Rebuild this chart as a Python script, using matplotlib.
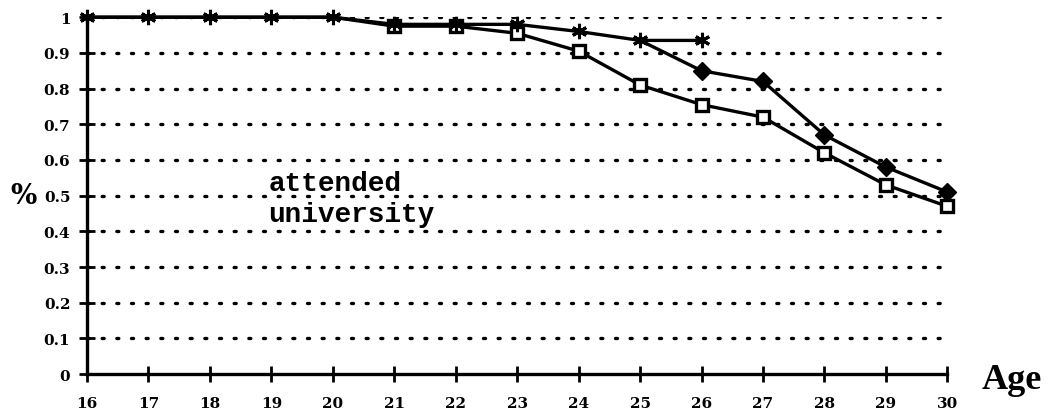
import numpy as np
import matplotlib.pyplot as plt

ages = [16, 17, 18, 19, 20, 21, 22, 23, 24, 25, 26, 27, 28, 29, 30]
star_ages = [16, 17, 18, 19, 20, 21, 22, 23, 24, 25, 26]
star_vals = [1, 1, 1, 1, 1, 0.98, 0.98, 0.98, 0.96, 0.935, 0.935]
diam_ages = [25, 26, 27, 28, 29, 30]
diam_vals = [0.935, 0.85, 0.82, 0.67, 0.58, 0.51]
square_vals = [1, 1, 1, 1, 1, 0.975, 0.975, 0.955, 0.905, 0.81, 0.755, 0.72, 0.62, 0.53, 0.47]
yticks = [0, 0.1, 0.2, 0.3, 0.4, 0.5, 0.6, 0.7, 0.8, 0.9, 1]
ylabels = ['0', '0.1', '0.2', '0.3', '0.4', '0.5', '0.6', '0.7', '0.8', '0.9', '1']

fig = plt.figure(figsize=(10.48, 4.14), dpi=100)
ax = fig.add_axes([0.083, 0.094, 0.821, 0.862])

# dotted grid lines
for y in yticks[1:]:
    ax.plot([16, 30], [y, y], color='black', lw=2.4, linestyle=(0, (0.6, 3.8)),
            dash_capstyle='round', zorder=1)

ax.plot(ages, square_vals, color='black', lw=2.4, marker='s', markersize=9,
        markerfacecolor='white', markeredgewidth=2.4, markevery=list(range(5, 15)),
        clip_on=False, zorder=3)
ax.plot(diam_ages, diam_vals, color='black', lw=2.4, marker='D', markersize=9,
        markevery=list(range(1, 6)), clip_on=False, zorder=3)
ax.plot(star_ages, star_vals, color='black', lw=2.4, marker=(6, 2, 0), markersize=11,
        markeredgewidth=2.2, clip_on=False, zorder=4)

ax.set_xlim(16, 30)
ax.set_ylim(0, 1)
ax.set_xticks(ages)
ax.set_xticklabels([str(a) for a in ages], fontsize=11, fontweight='bold', family='DejaVu Serif')
ax.set_yticks(yticks)
ax.set_yticklabels(ylabels, fontsize=11, fontweight='bold', family='DejaVu Serif')
ax.tick_params(direction='inout', length=12, width=2)
ax.tick_params(axis='x', pad=10)
ax.tick_params(axis='y', pad=6)

for s in ['top', 'right']:
    ax.spines[s].set_visible(False)
for s in ['left', 'bottom']:
    ax.spines[s].set_linewidth(2.4)

ax.text(18.95, 0.535, 'attended', fontsize=20, fontweight='bold', family='Liberation Mono', va='center')
ax.text(18.95, 0.448, 'university', fontsize=20, fontweight='bold', family='Liberation Mono', va='center')

fig.text(0.01, 1 - 197 / 414, '%', fontsize=20, fontweight='bold', family='DejaVu Serif', va='center')
fig.text(0.937, 1 - 381 / 414, 'Age', fontsize=26, fontweight='bold', family='Liberation Serif', va='center')

fig.savefig('out.png', dpi=100)
